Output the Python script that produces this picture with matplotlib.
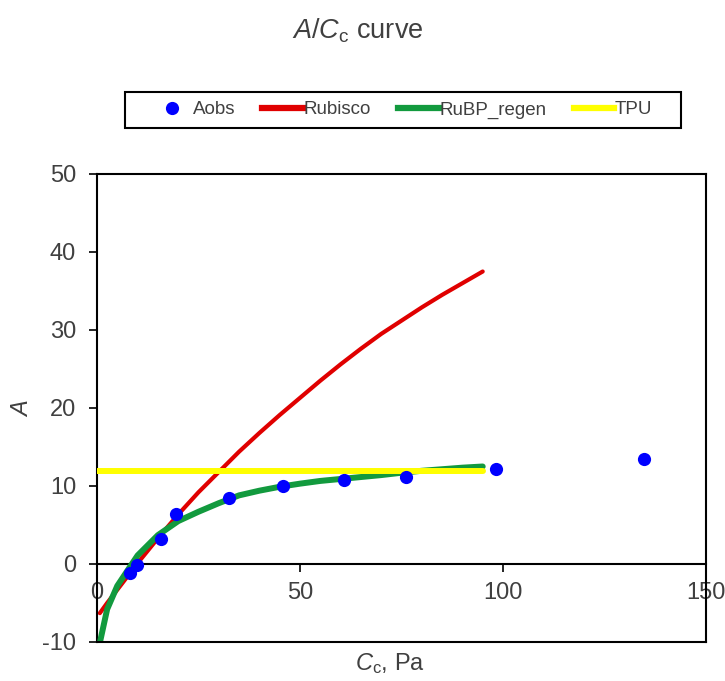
import matplotlib

matplotlib.use("Agg")
import matplotlib.pyplot as plt
from matplotlib.lines import Line2D
from matplotlib.patches import Rectangle

plt.rcParams["font.family"] = ["Liberation Sans", "DejaVu Sans"]
plt.rcParams["mathtext.fontset"] = "custom"
plt.rcParams["mathtext.rm"] = "Liberation Sans"
plt.rcParams["mathtext.it"] = "Liberation Sans:italic"
plt.rcParams["axes.unicode_minus"] = False

TEXT = "#404040"

# observed points
cc_obs = [8.1, 9.9, 15.8, 19.5, 32.5, 45.8, 60.8, 76.1, 98.3, 134.7]
a_obs = [-1.15, -0.1, 3.2, 6.4, 8.4, 10.0, 10.8, 11.2, 12.2, 13.5]

# model curves
cc_model = [0.7, 2.5, 5, 10, 15, 20, 25, 30, 35, 40, 45, 50, 55, 60, 65, 70, 75, 80, 85, 90, 95]
a_rubisco = [-6.3, -5.0, -3.3, 0.1, 3.3, 6.35, 9.2, 11.8, 14.4, 16.8, 19.1, 21.3, 23.5,
             25.6, 27.6, 29.5, 31.2, 32.9, 34.5, 36.0, 37.5]
a_rubp = [-10.1, -5.8, -2.8, 1.1, 3.7, 5.5, 6.7, 7.8, 8.8, 9.4, 9.9, 10.3, 10.65,
          10.9, 11.15, 11.4, 11.7, 11.95, 12.15, 12.35, 12.5]
cc_tpu = [0, 95]
a_tpu = [11.9, 11.9]

fig = plt.figure(figsize=(7.25, 6.81), dpi=100)
ax = fig.add_axes([97 / 725, 1 - 642 / 681, 609 / 725, 468 / 681])

ax.plot(cc_model, a_rubisco, color="#e00000", lw=3.0, solid_capstyle="round", zorder=2)
ax.plot(cc_model, a_rubp, color="#129a3e", lw=4.3, solid_capstyle="round",
        solid_joinstyle="round", zorder=3)
ax.plot(cc_tpu, a_tpu, color="#ffff00", lw=4.3, solid_capstyle="round", zorder=4)
ax.plot(cc_obs, a_obs, "o", color="#0000ff", ms=9.5, mec="none", zorder=5, clip_on=False)

ax.set_xlim(0, 150)
ax.set_ylim(-10, 50)
ax.set_xticks([0, 50, 100, 150])
ax.set_yticks([-10, 0, 10, 20, 30, 40, 50])
ax.spines["bottom"].set_position(("data", 0))
for s in ax.spines.values():
    s.set_linewidth(1.5)
    s.set_color("black")
ax.axhline(-10, color="black", lw=1.5, clip_on=False, zorder=6)
ax.tick_params(axis="both", colors="black", labelcolor=TEXT, labelsize=17,
               width=1.2, length=6, direction="out")
ax.tick_params(axis="x", pad=7)
ax.tick_params(axis="y", pad=9)

fig.text(22 / 725, 1 - 408 / 681, "$A$", fontsize=17, color=TEXT, rotation=90,
         ha="center", va="center")
fig.text(390 / 725, 1 - 664 / 681, "$C_\\mathrm{c}$, Pa", fontsize=17, color=TEXT,
         ha="center", va="center")
fig.text(358 / 725, 1 - 31 / 681, "$A/C_\\mathrm{c}$ curve", fontsize=19.5, color=TEXT,
         ha="center", va="center")

# legend frame drawn separately to get the wide side padding
fig.patches.append(Rectangle((125 / 725, 1 - 128 / 681), 556 / 725, 36 / 681,
                             transform=fig.transFigure, fill=False, ec="black", lw=1.5))
handles = [
    Line2D([], [], ls="none", marker="o", color="#0000ff", ms=9.5, mec="none"),
    Line2D([], [], color="#e00000", lw=4.5),
    Line2D([], [], color="#129a3e", lw=4.5),
    Line2D([], [], color="#ffff00", lw=4.5),
]
leg = fig.legend(handles, ["Aobs", "Rubisco", "RuBP_regen", "TPU"], ncol=4,
                 loc="center", bbox_to_anchor=(402 / 725, 1 - 110 / 681),
                 fontsize=13.5, frameon=False, handlelength=2.15,
                 handletextpad=0.05, columnspacing=1.45)
for t in leg.get_texts():
    t.set_color(TEXT)

fig.savefig("out.png", dpi=100)
